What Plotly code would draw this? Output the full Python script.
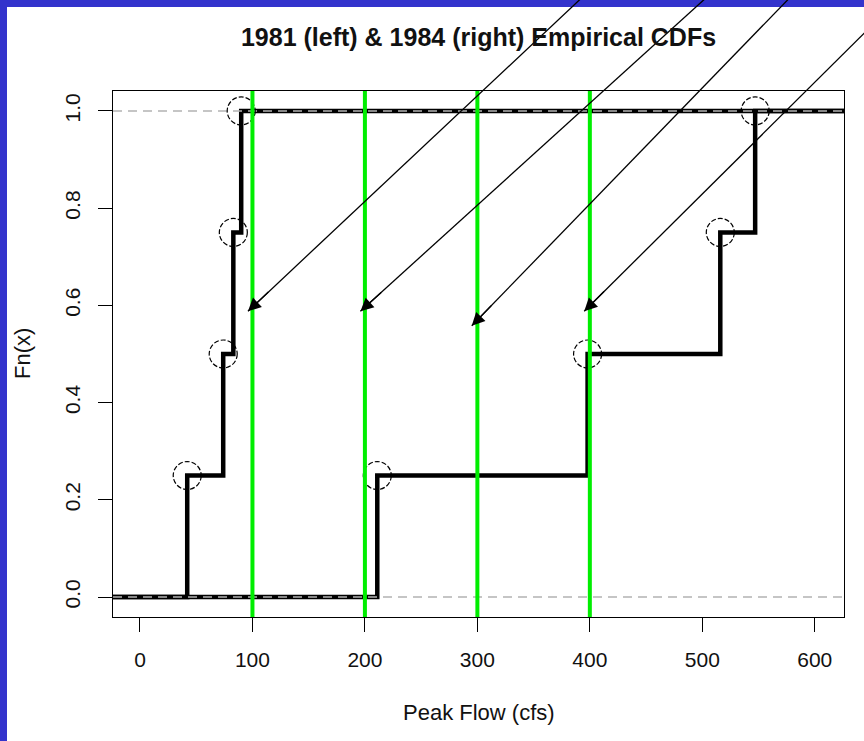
import math
import plotly.graph_objects as go

# Peak flow observations (cfs) for each year
flow_1981 = [42, 74, 83, 90]
flow_1984 = [211, 398, 516, 547]
cdf_levels = [0.25, 0.50, 0.75, 1.00]

# Reference thresholds marked with vertical lines
thresholds = [100, 200, 300, 400]

# Arrow tips (flow, Fn) and pixel direction of each arrow's tail
arrow_x = [96, 196, 295, 395]
arrow_y = [0.588, 0.588, 0.558, 0.588]
arrow_dx = [328, 343, 316, 280]
arrow_dy = [-308, -311, -326, -278]

x_ticks = [0, 100, 200, 300, 400, 500, 600]
y_ticks = [0.0, 0.2, 0.4, 0.6, 0.8, 1.0]

X_RANGE = [-24, 626]
Y_RANGE = [-0.041, 1.041]
FONT = "Liberation Sans"

W, H = 864, 741
L, R, T, B = 113, 20, 91, 124
pw, ph = W - L - R, H - T - B

fig = go.Figure()


def ecdf_trace(values):
    # step function extended past both axis ends
    xs = [-1000] + values + [2000]
    ys = [0.0] + cdf_levels + [1.0]
    return go.Scatter(x=xs, y=ys, mode="lines", line_shape="hv",
                      line=dict(color="black", width=4.5),
                      hoverinfo="skip", showlegend=False)


fig.add_trace(ecdf_trace(flow_1981))
fig.add_trace(ecdf_trace(flow_1984))

shapes = []
# white page area inside the blue frame
shapes.append(dict(type="rect", xref="paper", yref="paper", layer="below",
                   x0=(7 - L) / pw, x1=(W - L) / pw,
                   y0=-B / ph, y1=(H - B - 7) / ph,
                   fillcolor="white", line=dict(width=0)))

# dashed reference lines at 0 and 1
for lvl in (0.0, 1.0):
    shapes.append(dict(type="line", xref="paper", yref="y", x0=0, x1=1,
                       y0=lvl, y1=lvl,
                       line=dict(color="#b3b3b3", width=1.5, dash="9px,6px")))

# open circles at each observation
for xs in (flow_1981, flow_1984):
    for xv, yv in zip(xs, cdf_levels):
        shapes.append(dict(type="circle", xref="x", yref="y",
                           xsizemode="pixel", ysizemode="pixel",
                           xanchor=xv, yanchor=yv,
                           x0=-14, x1=14, y0=-14, y1=14,
                           line=dict(color="black", width=1.2, dash="5px,2px")))

# threshold lines
for t in thresholds:
    shapes.append(dict(type="line", xref="x", yref="paper", x0=t, x1=t,
                       y0=0, y1=1, line=dict(color="#00ee00", width=4)))


def to_paper(xv, yv):
    return ((xv - X_RANGE[0]) / (X_RANGE[1] - X_RANGE[0]),
            (yv - Y_RANGE[0]) / (Y_RANGE[1] - Y_RANGE[0]))


annotations = []
for xv, yv, dx, dy in zip(arrow_x, arrow_y, arrow_dx, arrow_dy):
    px, py = to_paper(xv, yv)
    # long shaft running off the top of the page (not clipped to the axes)
    shapes.append(dict(type="line", xref="paper", yref="paper",
                       x0=px, y0=py, x1=px + 2 * dx / pw, y1=py - 2 * dy / ph,
                       line=dict(color="black", width=1.3)))
    # arrowhead at the tip
    n = math.hypot(dx, dy)
    annotations.append(dict(x=xv, y=yv, xref="x", yref="y",
                            ax=30 * dx / n, ay=30 * dy / n, text="",
                            showarrow=True, arrowhead=2, arrowsize=2,
                            arrowwidth=1.3, arrowcolor="black", standoff=0))

annotations.append(dict(text="Peak Flow (cfs)", xref="paper", yref="paper",
                        x=0.5, y=-(712 - (H - B)) / ph,
                        xanchor="center", yanchor="middle", showarrow=False,
                        font=dict(family=FONT, size=22, color="#111")))
annotations.append(dict(text="Fn(x)", xref="paper", yref="paper",
                        x=(22 - L) / pw, y=0.5, textangle=-90,
                        xanchor="center", yanchor="middle", showarrow=False,
                        font=dict(family=FONT, size=22, color="#111")))

fig.update_layout(
    width=W, height=H, autosize=False,
    margin=dict(l=L, r=R, t=T, b=B, pad=0),
    paper_bgcolor="#3333cc", plot_bgcolor="white",
    title=dict(text="<b>1981 (left) & 1984 (right) Empirical CDFs</b>",
               x=0.5, xref="paper", xanchor="center",
               y=1 - 37 / H, yref="container", yanchor="middle",
               font=dict(family=FONT, size=25, color="#111")),
    shapes=shapes, annotations=annotations,
    showlegend=False,
)

fig.update_xaxes(range=X_RANGE, tickvals=x_ticks, ticks="outside", ticklen=14,
                 tickwidth=1, tickcolor="black", showgrid=False, zeroline=False,
                 showline=True, mirror=True, linecolor="black", linewidth=1,
                 tickfont=dict(family=FONT, size=21, color="#111"),
                 ticklabelstandoff=10)
fig.update_yaxes(range=Y_RANGE, tickvals=y_ticks, tickformat=".1f",
                 ticks="outside", ticklen=14, tickangle=-90,
                 tickwidth=1, tickcolor="black", showgrid=False, zeroline=False,
                 showline=True, mirror=True, linecolor="black", linewidth=1,
                 tickfont=dict(family=FONT, size=21, color="#111"),
                 ticklabelstandoff=10)

fig.write_html("out.html")
